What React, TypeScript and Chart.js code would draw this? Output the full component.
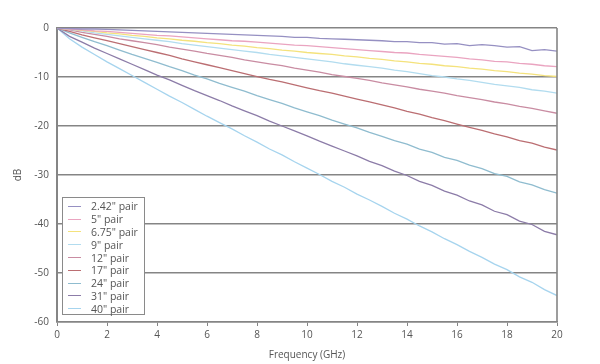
import React, { useEffect, useRef } from "react";
import { Chart, registerables } from "chart.js";

Chart.register(...registerables);

const FREQ_GHZ = [0, 0.5, 1, 1.5, 2, 2.5, 3, 3.5, 4, 4.5, 5, 5.5, 6, 6.5, 7, 7.5, 8, 8.5, 9, 9.5, 10, 10.5, 11, 11.5, 12, 12.5, 13, 13.5, 14, 14.5, 15, 15.5, 16, 16.5, 17, 17.5, 18, 18.5, 19, 19.5, 20];

const SERIES_LABELS = ['2.42" pair', '5" pair', '6.75" pair', '9" pair', '12" pair', '17" pair', '24" pair', '31" pair', '40" pair'];

const PAIR_2_42 = [0, -0.1, -0.2, -0.2, -0.3, -0.4, -0.5, -0.6, -0.7, -0.8, -0.9, -1.0, -1.1, -1.2, -1.3, -1.4, -1.5, -1.6, -1.7, -1.9, -1.9, -2.1, -2.2, -2.3, -2.4, -2.5, -2.6, -2.8, -2.8, -3.0, -3.0, -3.3, -3.2, -3.6, -3.4, -3.6, -3.9, -3.8, -4.6, -4.4, -4.7];
const PAIR_5 = [0, -0.2, -0.4, -0.6, -0.7, -0.9, -1.1, -1.3, -1.5, -1.6, -1.8, -2.0, -2.2, -2.4, -2.6, -2.7, -2.9, -3.1, -3.3, -3.5, -3.6, -3.8, -4.0, -4.2, -4.4, -4.6, -4.8, -5.0, -5.1, -5.4, -5.6, -5.8, -6.0, -6.3, -6.5, -6.8, -6.9, -7.2, -7.4, -7.7, -7.9];
const PAIR_6_75 = [0, -0.2, -0.5, -0.7, -1.0, -1.2, -1.5, -1.7, -2.0, -2.2, -2.5, -2.7, -3.0, -3.2, -3.5, -3.7, -4.0, -4.2, -4.5, -4.7, -5.0, -5.2, -5.4, -5.7, -5.9, -6.2, -6.4, -6.7, -6.9, -7.2, -7.4, -7.7, -7.9, -8.2, -8.4, -8.7, -8.9, -9.2, -9.4, -9.7, -9.9];
const PAIR_9 = [0, -0.3, -0.6, -1.0, -1.3, -1.6, -1.9, -2.2, -2.5, -2.8, -3.2, -3.5, -3.8, -4.1, -4.4, -4.7, -5.0, -5.4, -5.7, -6.0, -6.3, -6.6, -6.9, -7.3, -7.6, -7.9, -8.2, -8.6, -8.9, -9.3, -9.7, -10.0, -10.4, -10.7, -11.1, -11.5, -11.8, -12.1, -12.6, -12.9, -13.3];
const PAIR_12 = [0, -0.4, -0.9, -1.3, -1.7, -2.2, -2.6, -3.0, -3.4, -3.9, -4.3, -4.7, -5.2, -5.6, -6.0, -6.5, -6.9, -7.3, -7.7, -8.2, -8.6, -9.0, -9.5, -9.9, -10.3, -10.7, -11.2, -11.6, -12.0, -12.5, -12.9, -13.3, -13.8, -14.2, -14.6, -15.1, -15.5, -16.0, -16.4, -16.9, -17.4];
const PAIR_17 = [0, -0.7, -1.4, -2.0, -2.6, -3.2, -3.8, -4.4, -5.0, -5.6, -6.3, -6.9, -7.5, -8.1, -8.7, -9.3, -9.9, -10.5, -11.0, -11.6, -12.2, -12.8, -13.3, -13.9, -14.5, -15.1, -15.7, -16.3, -17.0, -17.6, -18.3, -18.9, -19.6, -20.3, -20.9, -21.6, -22.2, -23.0, -23.5, -24.3, -24.9];
const PAIR_24 = [0, -1.0, -1.9, -2.8, -3.6, -4.5, -5.4, -6.2, -7.0, -7.9, -8.7, -9.6, -10.4, -11.3, -12.1, -12.9, -13.8, -14.6, -15.4, -16.3, -17.1, -17.9, -18.8, -19.6, -20.4, -21.3, -22.1, -23.0, -23.7, -24.7, -25.4, -26.4, -27.0, -28.0, -28.7, -29.7, -30.3, -31.4, -32.0, -33.0, -33.7];
const PAIR_31 = [0, -1.7, -2.9, -4.1, -5.2, -6.3, -7.4, -8.5, -9.6, -10.6, -11.7, -12.8, -13.8, -14.8, -15.9, -16.9, -17.9, -19.0, -20.0, -21.0, -22.0, -23.1, -24.1, -25.1, -26.1, -27.2, -28.1, -29.2, -30.1, -31.3, -32.1, -33.3, -34.1, -35.3, -36.1, -37.4, -38.1, -39.4, -40.1, -41.5, -42.2];
const PAIR_40 = [0, -2.2, -3.9, -5.4, -6.9, -8.3, -9.7, -11.1, -12.5, -13.9, -15.2, -16.6, -18.0, -19.3, -20.6, -22.0, -23.3, -24.7, -25.9, -27.3, -28.6, -29.9, -31.3, -32.5, -33.9, -35.1, -36.4, -37.8, -39.0, -40.4, -41.6, -43.0, -44.2, -45.6, -46.8, -48.2, -49.3, -50.8, -51.9, -53.4, -54.6];

const SERIES_VALUES = [PAIR_2_42, PAIR_5, PAIR_6_75, PAIR_9, PAIR_12, PAIR_17, PAIR_24, PAIR_31, PAIR_40];

const SERIES_COLORS = ["#9690c2", "#eaa4c0", "#f4e27c", "#b2dcef", "#c98ca2", "#bb6e72", "#8fbccf", "#8c7ca8", "#a6d4ee"];

const Y_TICKS = [0, -10, -20, -30, -40, -50, -60];
const X_TICKS = [0, 2, 4, 6, 8, 10, 12, 14, 16, 18, 20];

const FONT = "'Open Sans', 'Noto Sans', sans-serif";
const GRID = "#858585";

export default function App() {
  const canvasRef = useRef<HTMLCanvasElement | null>(null);

  useEffect(() => {
    const canvas = canvasRef.current;
    if (!canvas) return;
    const borderPlugin = {
      id: "rightBorder",
      afterDraw(chart: any) {
        const { ctx, chartArea } = chart;
        ctx.save();
        ctx.strokeStyle = GRID;
        ctx.lineWidth = 1.6;
        ctx.beginPath();
        ctx.moveTo(chartArea.right, chartArea.top);
        ctx.lineTo(chartArea.right, chartArea.bottom);
        ctx.stroke();
        ctx.restore();
      },
    };
    const chart = new Chart(canvas, {
      type: "line",
      data: {
        datasets: SERIES_LABELS.map((label, i) => ({
          label,
          data: FREQ_GHZ.map((f, j) => ({ x: f, y: SERIES_VALUES[i][j] })),
          borderColor: SERIES_COLORS[i],
          backgroundColor: SERIES_COLORS[i],
          borderWidth: 1.3,
          pointRadius: 0,
          tension: 0,
          fill: false,
        })),
      },
      options: {
        animation: false,
        responsive: true,
        maintainAspectRatio: false,
        layout: { padding: { left: 0, right: 43, top: 28, bottom: 0 } },
        plugins: { legend: { display: false }, tooltip: { enabled: false } },
        scales: {
          x: {
            type: "linear",
            min: 0,
            max: 20,
            afterBuildTicks: (s: any) => {
              s.ticks = X_TICKS.map((v) => ({ value: v }));
            },
            afterFit: (s: any) => {
              s.height = 42;
            },
            grid: { drawOnChartArea: false, drawTicks: true, tickLength: 4, color: GRID },
            border: { display: true, color: GRID, width: 1.6 },
            ticks: { color: "#555", font: { family: FONT, size: 10 }, padding: 3, maxRotation: 0 },
            title: {
              display: true,
              text: "Frequency (GHz)",
              color: "#555",
              font: { family: FONT, size: 10 },
              padding: { top: 0, bottom: 3 },
            },
          },
          y: {
            type: "linear",
            min: -60,
            max: 0,
            afterBuildTicks: (s: any) => {
              s.ticks = Y_TICKS.slice().reverse().map((v) => ({ value: v }));
            },
            afterFit: (s: any) => {
              s.width = 57;
            },
            grid: { drawOnChartArea: true, drawTicks: false, color: GRID, lineWidth: 1.6 },
            border: { display: true, color: GRID, width: 2 },
            ticks: { color: "#555", font: { family: FONT, size: 10 }, padding: 8 },
            title: {
              display: true,
              text: "dB",
              color: "#555",
              font: { family: FONT, size: 10 },
              padding: { top: 12, bottom: 0 },
            },
          },
        },
      },
      plugins: [borderPlugin],
    });
    return () => chart.destroy();
  }, []);

  return (
    <div style={{ position: "absolute", left: 0, top: 0, width: 600, height: 364, background: "#fff" }}>
      <canvas ref={canvasRef} width={600} height={364} />
      <div
        style={{
          position: "absolute",
          left: 62,
          top: 197,
          width: 83,
          height: 118,
          border: "1px solid #8a8a8a",
          background: "#fff",
          boxSizing: "border-box",
          paddingTop: 2,
        }}
      >
        {SERIES_LABELS.map((label, i) => (
          <div
            key={label}
            style={{
              display: "flex",
              alignItems: "center",
              height: 12.8,
              fontFamily: FONT,
              fontSize: 10.5,
              color: "#555",
              whiteSpace: "nowrap",
            }}
          >
            <span
              style={{
                display: "inline-block",
                width: 13,
                height: 0,
                borderTop: `1.5px solid ${SERIES_COLORS[i]}`,
                marginLeft: 5,
                marginRight: 10,
              }}
            />
            <span>{label}</span>
          </div>
        ))}
      </div>
    </div>
  );
}
